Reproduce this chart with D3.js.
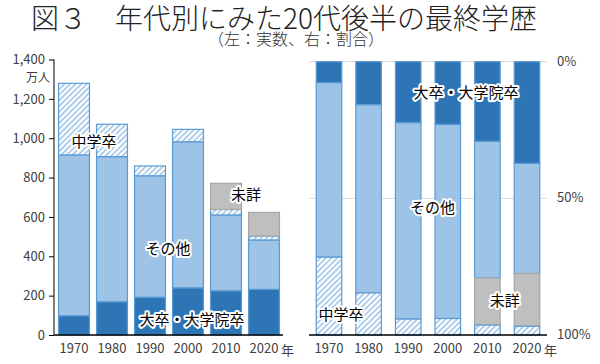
<!DOCTYPE html>
<html><head><meta charset="utf-8">
<script src="https://cdn.jsdelivr.net/npm/d3@7"></script>
<style>
body{margin:0;background:#fff;}
svg{display:block;font-family:"Noto Sans CJK JP","Noto Sans",sans-serif;}
</style></head>
<body><svg id="c" width="600" height="364"></svg>
<script>
const years = ["1970","1980","1990","2000","2010","2020"];
const univ    = [98, 169, 192, 240, 225, 232];   // 大卒・大学院卒
const other   = [817, 737, 617, 742, 385, 251];  // その他
const junior  = [364, 165, 50, 63, 28, 20];      // 中学卒
const unknown = [0, 0, 0, 0, 133, 120];          // 未詳
const leftTicks = [0,200,400,600,800,1000,1200,1400];
const rightTicks = [0,0.5,1];

const svg = d3.select("#c");
const C = {dark:"#2E75B6", light:"#9DC3E6", edge:"#5B9BD5", gray:"#BFBFBF", grayEdge:"#A6A6A6", text:"#404040"};

const defs = svg.append("defs");
const pat = defs.append("pattern").attr("id","hatch").attr("patternUnits","userSpaceOnUse")
  .attr("width",4).attr("height",4).attr("patternTransform","rotate(45)");
pat.append("rect").attr("width",4).attr("height",4).attr("fill","#fff");
pat.append("rect").attr("x",0).attr("width",1.6).attr("height",4).attr("fill","#9DC3E6");

// Title
svg.append("text").attr("x",31).attr("y",29).attr("font-size",28).attr("font-weight",300).attr("fill","#222")
  .text("図３　年代別にみた20代後半の最終学歴");
svg.append("text").attr("x",296).attr("y",45).attr("text-anchor","middle").attr("font-size",16).attr("font-weight",300).attr("fill","#333")
  .text("（左：実数、右：割合）");

// data rows
const rows = years.map((y,i)=>({year:y, univ:univ[i], other:other[i], junior:junior[i], unknown:unknown[i],
  total: univ[i]+other[i]+junior[i]+unknown[i]}));

// LEFT CHART
const xL = d3.scaleBand().domain(years).range([55,283]).paddingInner(0.16).paddingOuter(0.08);
const yL = d3.scaleLinear().domain([0,1400]).range([335,59.5]);
const leftKeys = ["univ","other","junior","unknown"];
const stackL = d3.stack().keys(leftKeys)(rows);
const fillOf = {univ:C.dark, other:C.light, junior:"url(#hatch)", unknown:C.gray};
const edgeOf = {univ:C.edge, other:C.edge, junior:C.edge, unknown:C.grayEdge};

const gL = svg.append("g");
stackL.forEach(layer=>{
  gL.selectAll(null).data(layer.filter(d=>d[1]-d[0]>0)).enter().append("rect")
    .attr("x",d=>xL(d.data.year)+0.5).attr("width",xL.bandwidth()-1)
    .attr("y",d=>yL(d[1])).attr("height",d=>yL(d[0])-yL(d[1]))
    .attr("fill",fillOf[layer.key]).attr("stroke",edgeOf[layer.key]).attr("stroke-width",1.2);
});
const axL = svg.append("g").attr("transform","translate(54,0)")
  .call(d3.axisLeft(yL).tickValues(leftTicks).tickSize(5).tickPadding(4).tickFormat(d3.format(",")));
axL.select(".domain").attr("stroke","#000").attr("d","M0,"+yL(0)+"V"+yL(1400));
axL.selectAll(".tick line").attr("stroke","#000");
axL.selectAll("text").attr("font-size",13).attr("fill",C.text).attr("font-family","Noto Sans CJK JP");
svg.append("text").attr("x",50).attr("y",yL(1400)+22).attr("text-anchor","end").attr("font-size",12).attr("fill",C.text).text("万人");

const axLx = svg.append("g").attr("transform","translate(0,"+yL(0)+")")
  .call(d3.axisBottom(xL).tickSize(0).tickPadding(9));
axLx.select(".domain").attr("stroke","#000").attr("stroke-width",1.5).attr("d","M54,0H283");
axLx.selectAll("text").attr("font-size",13).attr("fill",C.text).attr("font-family","Noto Sans CJK JP");
svg.append("text").attr("x",xL("2020")+xL.bandwidth()/2+17).attr("y",yL(0)+20)
  .attr("font-size",13).attr("fill",C.text).text("年");

// RIGHT CHART
const xR = d3.scaleBand().domain(years).range([309,547]).paddingInner(0.33).paddingOuter(0.17);
const yR = d3.scaleLinear().domain([0,1]).range([61.7,335]);
const rowsR = rows.map(r=>({year:r.year, univ:r.univ/r.total, other:r.other/r.total, unknown:r.unknown/r.total, junior:r.junior/r.total}));
const rightKeys = ["univ","other","unknown","junior"];
const stackR = d3.stack().keys(rightKeys)(rowsR);
const gR = svg.append("g");
gR.selectAll("line.grid").data([0,0.5]).enter().append("line")
  .attr("x1",309).attr("x2",547).attr("y1",d=>yR(d)).attr("y2",d=>yR(d)).attr("stroke","#D9D9D9").attr("stroke-width",1);
stackR.forEach(layer=>{
  gR.selectAll(null).data(layer.filter(d=>d[1]-d[0]>0)).enter().append("rect")
    .attr("x",d=>xR(d.data.year)+0.5).attr("width",xR.bandwidth()-1)
    .attr("y",d=>yR(d[0])).attr("height",d=>yR(d[1])-yR(d[0]))
    .attr("fill",fillOf[layer.key]).attr("stroke",edgeOf[layer.key]).attr("stroke-width",1.2);
});
svg.append("line").attr("x1",309).attr("x2",547).attr("y1",yR(1)).attr("y2",yR(1)).attr("stroke","#000").attr("stroke-width",1.5);
svg.selectAll("text.rt").data(rightTicks).enter().append("text")
  .attr("x",557).attr("y",d=>yR(d)+4).attr("font-size",13).attr("fill",C.text).text(d=>d3.format(".0%")(d));
const axRx = svg.append("g").attr("transform","translate(0,"+yR(1)+")")
  .call(d3.axisBottom(xR).tickSize(0).tickPadding(9));
axRx.select(".domain").remove();
axRx.selectAll("text").attr("font-size",13).attr("fill",C.text).attr("font-family","Noto Sans CJK JP");
svg.append("text").attr("x",xR("2020")+xR.bandwidth()/2+17).attr("y",yR(1)+20)
  .attr("font-size",13).attr("fill",C.text).text("年");

// Labels with white halo
function lab(x,y,t){
  svg.append("text").attr("x",x).attr("y",y).attr("text-anchor","middle").attr("dominant-baseline","central")
    .attr("font-size",15).attr("fill","#000").attr("stroke","#fff").attr("stroke-width",4)
    .attr("stroke-linejoin","round").attr("paint-order","stroke").text(t);
}
lab(xL("1970")+xL.bandwidth()/2+20, yL(990), "中学卒");
lab(xL("1990")+xL.bandwidth()+2, yL(445), "その他");
lab(xL("2000")+xL.bandwidth()/2+4, yL(85), "大卒・大学院卒");
lab(xL("2010")+xL.bandwidth()+4, yL(720), "未詳");
lab(xR("2000")+xR.bandwidth()+5, yR(0.11), "大卒・大学院卒");
lab(xR("1990")+xR.bandwidth()+11, yR(0.53), "その他");
lab(xR("2010")+xR.bandwidth()+4, yR(0.87), "未詳");
lab(xR("1970")+xR.bandwidth()/2+12, yR(0.92), "中学卒");
</script></body></html>
